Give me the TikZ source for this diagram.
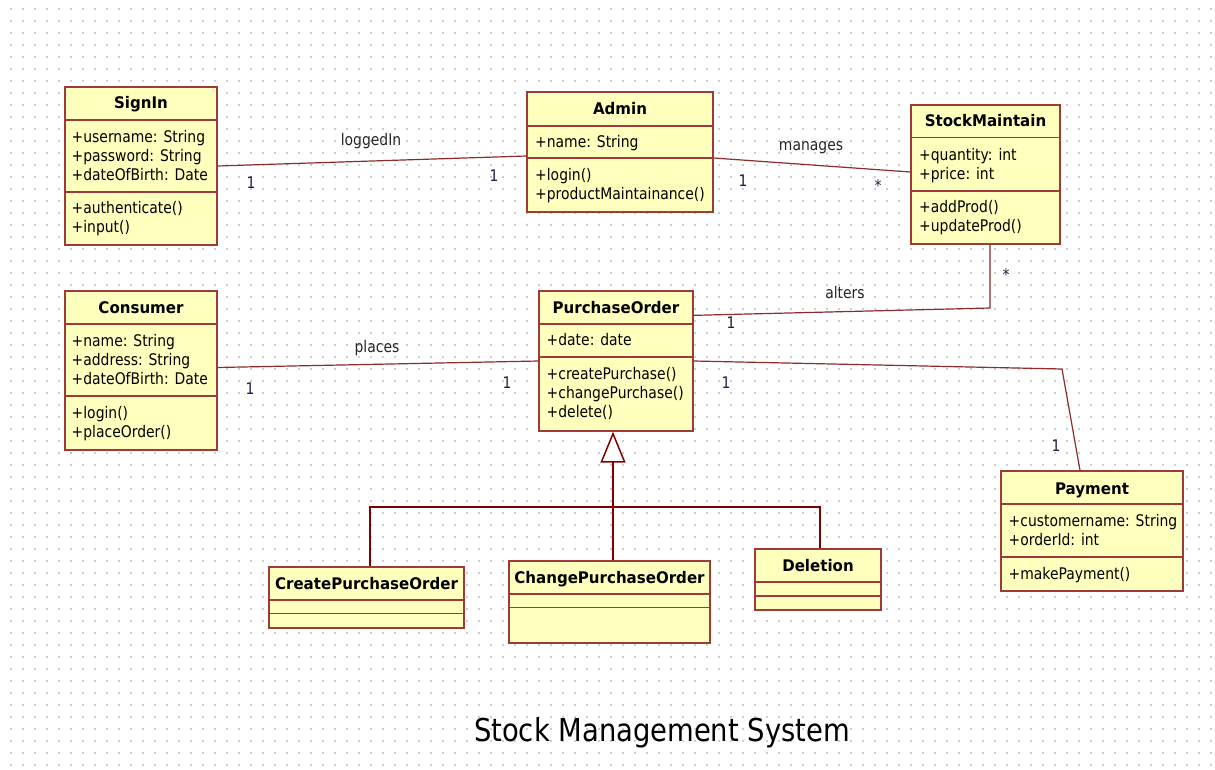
\documentclass[tikz,border=0pt]{standalone}
\usepackage{fontspec}
\setmainfont{DejaVu Sans}[FakeStretch=0.87]
\newfontfamily\clsfont{DejaVu Sans}[FakeStretch=0.94]
\usetikzlibrary{arrows.meta}
\definecolor{boxfill}{HTML}{FFFFBE}
\definecolor{boxline}{HTML}{9E3A3A}
\definecolor{conn}{HTML}{8E2B2B}
\definecolor{gencol}{HTML}{800000}
\definecolor{gridcol}{HTML}{CDCDCD}
\definecolor{multcol}{HTML}{1E1E46}
\tikzset{
  classbox/.style={draw=boxline, fill=boxfill, line width=1.3pt, inner sep=0pt, rectangle},
  divider/.style={draw=boxline, line width=1.3pt},
  clstitle/.style={font=\clsfont\bfseries\fontsize{16}{19}\selectfont, anchor=base, inner sep=0pt, text=black},
  member/.style={font=\fontsize{16}{19}\selectfont, anchor=base west, inner sep=0pt, text=black},
  assoc/.style={font=\fontsize{16}{19}\selectfont, anchor=base, inner sep=0pt, text=black!85},
  mult/.style={font=\fontsize{16}{19}\selectfont, anchor=base, inner sep=0pt, text=multcol},
  star/.style={font=\fontsize{16}{19}\selectfont, inner sep=0pt, text=multcol},
  assocline/.style={draw=conn, line width=1.2pt},
  genline/.style={draw=gencol, line width=1.3pt},
  genstem/.style={draw=gencol, line width=2pt, -{Triangle[length=31pt, width=25pt, fill=white, line width=1.5pt]}},
}
\begin{document}
\begin{tikzpicture}[x=1pt, y=-1pt]
\useasboundingbox (0,0) rectangle (1215,770);
\fill[white] (0,0) rectangle (1215,770);
% dotted grid
\foreach \gy in {9,21,...,765}
  \draw[gridcol, line width=1.5pt, dash pattern=on 1.5pt off 10.5pt] (10.25,\gy) -- (1215,\gy);

% ---------- SignIn ----------
\node[classbox, minimum width=152pt, minimum height=158pt] (signin) at (141,166) {};
\draw[divider] (signin.west |- 0,120) -- (signin.east |- 0,120);
\draw[divider] (signin.west |- 0,192) -- (signin.east |- 0,192);
\node[clstitle] (signin-t) at (141,109) {SignIn};
\node[member] (signin-a1) at (71.5,142.5) {+username: String};
\node[member] (signin-a2) at (71.5,161.5) {+password: String};
\node[member] (signin-a3) at (71.5,180.5) {+dateOfBirth: Date};
\node[member] (signin-m1) at (71.5,213.5) {+authenticate()};
\node[member] (signin-m2) at (71.5,232.5) {+input()};

% ---------- Admin ----------
\node[classbox, minimum width=186pt, minimum height=120pt] (admin) at (620,152) {};
\draw[divider] (admin.west |- 0,126) -- (admin.east |- 0,126);
\draw[divider] (admin.west |- 0,158) -- (admin.east |- 0,158);
\node[clstitle] (admin-t) at (620,115) {Admin};
\node[member] (admin-a1) at (535,148) {+name: String};
\node[member] (admin-m1) at (535,181) {+login()};
\node[member] (admin-m2) at (535,200) {+productMaintainance()};

% ---------- StockMaintain ----------
\node[classbox, minimum width=149pt, minimum height=139pt] (stock) at (985.5,174.5) {};
\draw[divider] (stock.west |- 0,137.5) -- (stock.east |- 0,137.5);
\draw[divider] (stock.west |- 0,191) -- (stock.east |- 0,191);
\node[clstitle] (stock-t) at (985.5,127) {StockMaintain};
\node[member] (stock-a1) at (919,161) {+quantity: int};
\node[member] (stock-a2) at (919,180) {+price: int};
\node[member] (stock-m1) at (919,212.5) {+addProd()};
\node[member] (stock-m2) at (919,231.5) {+updateProd()};

% ---------- Consumer ----------
\node[classbox, minimum width=152pt, minimum height=159pt] (consumer) at (141,370.5) {};
\draw[divider] (consumer.west |- 0,324) -- (consumer.east |- 0,324);
\draw[divider] (consumer.west |- 0,396) -- (consumer.east |- 0,396);
\node[clstitle] (consumer-t) at (141,313.5) {Consumer};
\node[member] (consumer-a1) at (71.5,346) {+name: String};
\node[member] (consumer-a2) at (71.5,365) {+address: String};
\node[member] (consumer-a3) at (71.5,384.5) {+dateOfBirth: Date};
\node[member] (consumer-m1) at (71.5,418) {+login()};
\node[member] (consumer-m2) at (71.5,437) {+placeOrder()};

% ---------- PurchaseOrder ----------
\node[classbox, minimum width=154pt, minimum height=140pt] (po) at (616,361) {};
\draw[divider] (po.west |- 0,324) -- (po.east |- 0,324);
\draw[divider] (po.west |- 0,357) -- (po.east |- 0,357);
\node[clstitle] (po-t) at (616,313) {PurchaseOrder};
\node[member] (po-a1) at (546.5,345.5) {+date: date};
\node[member] (po-m1) at (546.5,379) {+createPurchase()};
\node[member] (po-m2) at (546.5,398) {+changePurchase()};
\node[member] (po-m3) at (546.5,417) {+delete()};

% ---------- Payment ----------
\node[classbox, minimum width=182pt, minimum height=120pt] (pay) at (1092,531) {};
\draw[divider] (pay.west |- 0,504) -- (pay.east |- 0,504);
\draw[divider] (pay.west |- 0,557) -- (pay.east |- 0,557);
\node[clstitle] (pay-t) at (1092,494) {Payment};
\node[member] (pay-a1) at (1008.5,526) {+customername: String};
\node[member] (pay-a2) at (1008.5,545) {+orderId: int};
\node[member] (pay-m1) at (1008.5,579) {+makePayment()};

% ---------- CreatePurchaseOrder ----------
\node[classbox, minimum width=195pt, minimum height=61pt] (create) at (366.5,597.5) {};
\draw[divider] (create.west |- 0,600) -- (create.east |- 0,600);
\draw[divider] (create.west |- 0,613.5) -- (create.east |- 0,613.5);
\node[clstitle] (create-t) at (366.5,589) {CreatePurchaseOrder};

% ---------- ChangePurchaseOrder ----------
\node[classbox, minimum width=201pt, minimum height=82pt] (change) at (609.5,602) {};
\draw[divider] (change.west |- 0,594) -- (change.east |- 0,594);
\draw[divider] (change.west |- 0,607.5) -- (change.east |- 0,607.5);
\node[clstitle] (change-t) at (609.5,583) {ChangePurchaseOrder};

% ---------- Deletion ----------
\node[classbox, minimum width=126pt, minimum height=61pt] (del) at (818,579.5) {};
\draw[divider] (del.west |- 0,582) -- (del.east |- 0,582);
\draw[divider] (del.west |- 0,596) -- (del.east |- 0,596);
\node[clstitle] (del-t) at (818,571) {Deletion};

% ---------- associations ----------
\draw[assocline] (signin.east) -- ([yshift=-4pt]admin.west);
\node[assoc] (lbl-logged) at (371,146) {loggedIn};
\node[mult] (m-signin) at (251,189) {1};
\node[mult] (m-admin1) at (494,182) {1};

\draw[assocline] ([yshift=-6pt]admin.east) -- ([yshift=2.5pt]stock.west);
\node[assoc] (lbl-manages) at (811,151) {manages};
\node[mult] (m-admin2) at (743,186) {1};
\node[star] (m-stock1) at (878,186) {*};

\draw[assocline] ([xshift=4.5pt]stock.south) -- (990,308) -- ([yshift=-25pt]po.north east);
\node[assoc] (lbl-alters) at (845,298) {alters};
\node[star] (m-stock2) at (1006,275) {*};
\node[mult] (m-po1) at (731,328) {1};

\draw[assocline] ([yshift=3pt]consumer.east) -- (po.west);
\node[assoc] (lbl-places) at (377,352) {places};
\node[mult] (m-consumer) at (250,394) {1};
\node[mult] (m-po2) at (507,388) {1};

\draw[assocline] (po.east) -- (1062,369) -- ([xshift=-12pt]pay.north);
\node[mult] (m-po3) at (726,388) {1};
\node[mult] (m-pay) at (1056,451) {1};

% ---------- generalization ----------
\coordinate (genbar) at (613,507);
\draw[genline] ([xshift=3.5pt]create.north) -- (370,507) -- (820,507) -- ([xshift=2pt]del.north);
\draw[genline] ([xshift=3.5pt]change.north) -- (genbar);
\draw[genstem] (genbar) -- ([xshift=-3pt]po.south);

% ---------- title ----------
\node[font=\fontsize{31.5}{36}\selectfont, anchor=base, inner sep=0pt] (title) at (662,741.5) {Stock Management System};
\end{tikzpicture}
\end{document}
